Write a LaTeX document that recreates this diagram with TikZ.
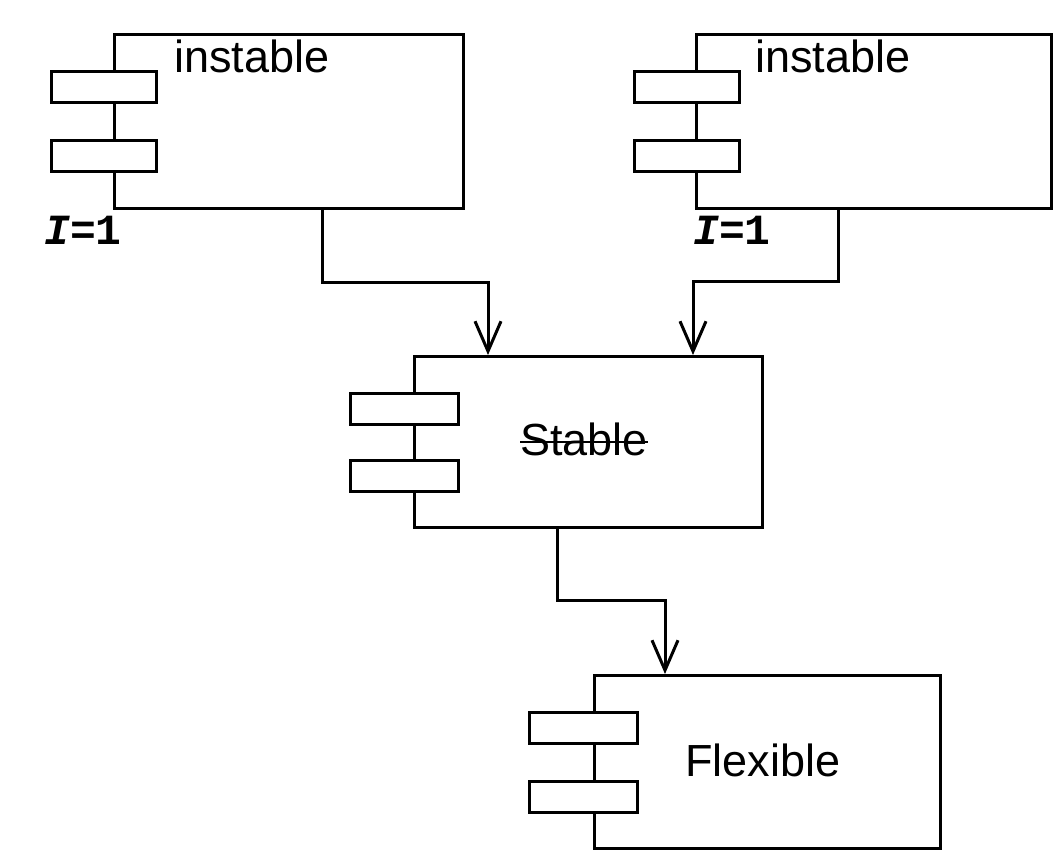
\documentclass[tikz,border=0pt]{standalone}
\usepackage{fontspec}
\setmainfont{Liberation Sans}
\newfontfamily\monof{Liberation Mono}
\usetikzlibrary{arrows.meta,calc}
\begin{document}
\begin{tikzpicture}[x=1pt,y=-1pt,
  comp/.style={draw,line width=3pt,anchor=north west,inner sep=0pt},
  port/.style={draw,fill=white,line width=3pt,anchor=north west,inner sep=0pt,minimum width=105pt,minimum height=31pt},
  lbl/.style={inner sep=0pt,font=\fontsize{45}{54}\selectfont},
  ilbl/.style={inner sep=0pt,anchor=base west,font=\fontsize{43}{50}\selectfont\monof\bfseries},
  arr/.style={line width=3pt,-{Straight Barb[length=30pt,width=26pt,line width=3pt]}}
]
\useasboundingbox (0,0) rectangle (1063,859);
\fill[white] (0,0) rectangle (1063,859);
% components
\node[comp,minimum width=349pt,minimum height=174pt] (inst1) at (113,33) {};
\node[comp,minimum width=355pt,minimum height=174pt] (inst2) at (695,33) {};
\node[comp,minimum width=348pt,minimum height=171pt] (stab) at (413,355) {};
\node[comp,minimum width=346pt,minimum height=173pt] (flex) at (593,674) {};
% ports
\node[port] (p1a) at (50,70) {};
\node[port] (p1b) at (50,139) {};
\node[port] (p2a) at (633,70) {};
\node[port] (p2b) at (633,139) {};
\node[port,minimum width=108pt] (p3a) at (349,392) {};
\node[port,minimum width=108pt] (p3b) at (349,459) {};
\node[port,minimum width=108pt] (p4a) at (528,711) {};
\node[port,minimum width=108pt] (p4b) at (528,780) {};
% texts
\node[lbl,anchor=base west] (t1) at (174,73) {instable};
\node[lbl,anchor=base west] (t2) at (755,73) {instable};
\node[lbl,anchor=base] (t3) at (584,455) {Stable};
\draw[line width=2pt] ([yshift=13pt]t3.base west) -- ([yshift=13pt]t3.base east);
\node[lbl] (t4) at (763,760) {Flexible};
\node[ilbl] (i1) at (44,244) {{\itshape I}=1};
\node[ilbl] (i2) at (693,244) {{\itshape I}=1};
% connectors
\coordinate (a1) at (322,282);
\coordinate (a2) at (488,282);
\coordinate (b1) at (838,281);
\coordinate (b2) at (693,281);
\coordinate (c1) at (557,600);
\coordinate (c2) at (665,600);
\draw[arr] (inst1.south -| a1) -- (a1) -- (a2) -- (stab.north -| a2);
\draw[arr] (inst2.south -| b1) -- (b1) -- (b2) -- (stab.north -| b2);
\draw[arr] (stab.south -| c1) -- (c1) -- (c2) -- (flex.north -| c2);
\end{tikzpicture}
\end{document}
